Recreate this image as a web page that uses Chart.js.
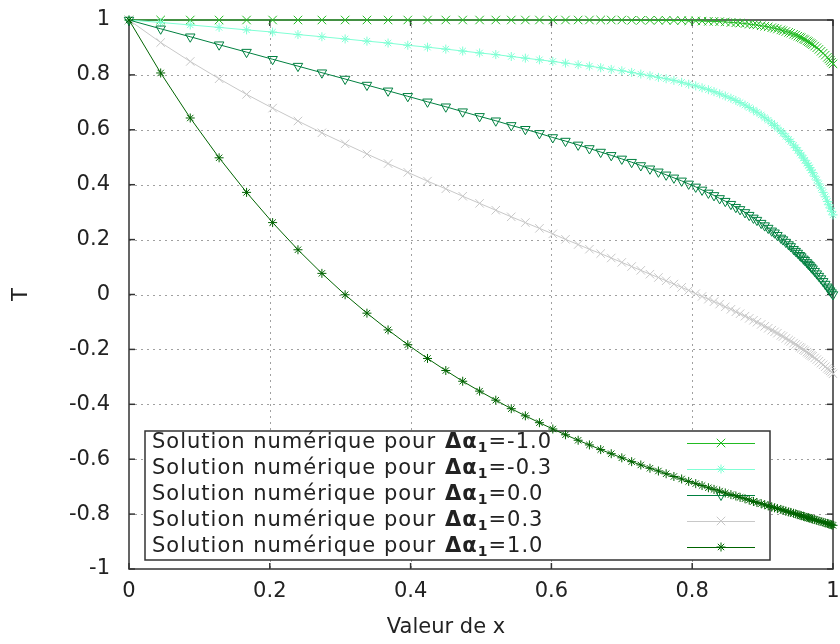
<!DOCTYPE html>
<html>
<head>
<meta charset="utf-8">
<script src="https://cdn.jsdelivr.net/npm/chart.js@4.4.1/dist/chart.umd.min.js"></script>
<style>
  html, body { margin: 0; padding: 0; background: #fff; }
  #wrap { position: relative; width: 840px; height: 644px; }
</style>
</head>
<body>
<div id="wrap"><canvas id="chart"></canvas></div>
<script>
// Solutions numériques T(x) pour plusieurs valeurs de Δα1 (style gnuplot)

const FONT = '"DejaVu Sans", sans-serif';
const TEXT = "#222";

// abscisses communes (maillage resserré vers x = 1)
const xs = [
  0, 0.045, 0.087, 0.128, 0.167, 0.204, 0.240, 0.274, 0.307, 0.338,
  0.368, 0.396, 0.424, 0.450, 0.474, 0.498, 0.521, 0.543, 0.563, 0.583,
  0.602, 0.620, 0.638, 0.654, 0.670, 0.685, 0.700, 0.714, 0.727, 0.740,
  0.752, 0.763, 0.774, 0.785, 0.795, 0.805, 0.814, 0.823, 0.831, 0.839,
  0.847, 0.855, 0.862, 0.868, 0.875, 0.881, 0.887, 0.892, 0.898, 0.903,
  0.908, 0.913, 0.917, 0.921, 0.926, 0.929, 0.933, 0.937, 0.940, 0.944,
  0.947, 0.950, 0.953, 0.955, 0.958, 0.960, 0.963, 0.965, 0.967, 0.969,
  0.971, 0.974, 0.977, 0.980, 0.983, 0.986, 0.989, 0.992, 0.994, 0.996,
  0.998, 1.000,
];

// Δα1 = -1.0
const tMinus10 = [
  1, 1, 1, 1, 1, 1, 1, 1, 1, 1,
  1, 1, 1, 1, 1, 1, 1, 1, 1, 1,
  1, 1, 1, 1, 1, 1, 1, 0.999, 0.999, 0.999,
  0.999, 0.999, 0.998, 0.998, 0.997, 0.997, 0.996, 0.995, 0.995, 0.994,
  0.993, 0.991, 0.990, 0.989, 0.987, 0.985, 0.983, 0.982, 0.979, 0.977,
  0.975, 0.972, 0.970, 0.967, 0.964, 0.961, 0.958, 0.955, 0.952, 0.948,
  0.945, 0.941, 0.938, 0.935, 0.931, 0.928, 0.924, 0.921, 0.917, 0.914,
  0.910, 0.905, 0.899, 0.893, 0.886, 0.879, 0.872, 0.864, 0.858, 0.852,
  0.846, 0.840,
];

// Δα1 = -0.3
const tMinus03 = [
  1, 0.991, 0.982, 0.973, 0.964, 0.956, 0.947, 0.939, 0.931, 0.923,
  0.916, 0.908, 0.901, 0.894, 0.887, 0.880, 0.874, 0.867, 0.861, 0.855,
  0.849, 0.843, 0.837, 0.832, 0.826, 0.820, 0.815, 0.809, 0.803, 0.797,
  0.791, 0.786, 0.780, 0.773, 0.766, 0.760, 0.753, 0.746, 0.739, 0.731,
  0.723, 0.715, 0.707, 0.699, 0.690, 0.681, 0.672, 0.664, 0.654, 0.644,
  0.635, 0.624, 0.616, 0.606, 0.595, 0.587, 0.576, 0.565, 0.557, 0.544,
  0.535, 0.525, 0.515, 0.508, 0.497, 0.489, 0.478, 0.470, 0.462, 0.453,
  0.444, 0.431, 0.417, 0.403, 0.388, 0.372, 0.356, 0.339, 0.327, 0.315,
  0.303, 0.290,
];

// Δα1 = 0.0
const tZero = [
  1, 0.968, 0.939, 0.910, 0.883, 0.857, 0.832, 0.808, 0.785, 0.763,
  0.742, 0.722, 0.702, 0.684, 0.666, 0.649, 0.633, 0.616, 0.602, 0.587,
  0.572, 0.559, 0.545, 0.532, 0.519, 0.507, 0.494, 0.482, 0.470, 0.458,
  0.447, 0.436, 0.425, 0.414, 0.403, 0.392, 0.381, 0.370, 0.361, 0.350,
  0.340, 0.329, 0.318, 0.310, 0.299, 0.289, 0.279, 0.271, 0.260, 0.251,
  0.242, 0.232, 0.225, 0.216, 0.206, 0.200, 0.191, 0.182, 0.175, 0.165,
  0.158, 0.151, 0.143, 0.138, 0.130, 0.125, 0.117, 0.111, 0.106, 0.100,
  0.094, 0.085, 0.076, 0.067, 0.058, 0.048, 0.038, 0.028, 0.021, 0.014,
  0.007, 0.000,
];

// Δα1 = 0.3
const tPlus03 = [
  1, 0.918, 0.849, 0.786, 0.729, 0.679, 0.632, 0.589, 0.549, 0.512,
  0.477, 0.445, 0.413, 0.385, 0.358, 0.332, 0.307, 0.283, 0.262, 0.241,
  0.221, 0.201, 0.182, 0.165, 0.149, 0.133, 0.117, 0.102, 0.088, 0.074,
  0.062, 0.050, 0.038, 0.026, 0.015, 0.003, -0.007, -0.017, -0.026, -0.035,
  -0.045, -0.054, -0.063, -0.070, -0.079, -0.087, -0.094, -0.101, -0.109, -0.116,
  -0.123, -0.130, -0.136, -0.141, -0.149, -0.153, -0.160, -0.166, -0.171, -0.177,
  -0.182, -0.187, -0.192, -0.196, -0.201, -0.205, -0.210, -0.214, -0.218, -0.222,
  -0.225, -0.231, -0.237, -0.243, -0.250, -0.256, -0.263, -0.269, -0.274, -0.278,
  -0.283, -0.289,
];

// Δα1 = 1.0
const tPlus10 = [
  1, 0.807, 0.643, 0.498, 0.372, 0.262, 0.163, 0.077, -0.001, -0.068,
  -0.129, -0.183, -0.233, -0.277, -0.316, -0.352, -0.385, -0.416, -0.442, -0.467,
  -0.490, -0.511, -0.531, -0.548, -0.565, -0.580, -0.595, -0.609, -0.621, -0.633,
  -0.643, -0.653, -0.663, -0.672, -0.681, -0.689, -0.696, -0.704, -0.710, -0.716,
  -0.723, -0.729, -0.734, -0.739, -0.744, -0.749, -0.754, -0.758, -0.762, -0.766,
  -0.770, -0.774, -0.777, -0.780, -0.783, -0.786, -0.789, -0.792, -0.794, -0.797,
  -0.799, -0.802, -0.804, -0.806, -0.808, -0.810, -0.812, -0.813, -0.815, -0.816,
  -0.818, -0.820, -0.823, -0.825, -0.827, -0.830, -0.832, -0.834, -0.836, -0.838,
  -0.839, -0.841,
];

const alphaLabels = ["-1.0", "-0.3", "0.0", "0.3", "1.0"];
const xTicks = [0, 0.2, 0.4, 0.6, 0.8, 1];
const yTicks = [-1, -0.8, -0.6, -0.4, -0.2, 0, 0.2, 0.4, 0.6, 0.8, 1];

// styles façon gnuplot (pt 2 = x, pt 3 = *, pt 10 = triangle bas)
const STYLES = [
  { color: "#22bb22", pointStyle: "crossRot", radius: 6, rotation: 0 },
  { color: "#7fffd4", pointStyle: "star", radius: 4.5, rotation: 0 },
  { color: "#008040", pointStyle: "triangle", radius: 5.5, rotation: 180 },
  { color: "#c8c8c8", pointStyle: "crossRot", radius: 6, rotation: 0 },
  { color: "#006400", pointStyle: "star", radius: 4.5, rotation: 0 },
];
const SERIES = [tMinus10, tMinus03, tZero, tPlus03, tPlus10];

const datasets = SERIES.map((ys, i) => ({
  label: "Δα1=" + alphaLabels[i],
  data: xs.map((x, j) => ({ x, y: ys[j] })),
  borderColor: STYLES[i].color,
  backgroundColor: "transparent",
  borderWidth: 1,
  pointStyle: STYLES[i].pointStyle,
  pointRadius: STYLES[i].radius,
  pointRotation: STYLES[i].rotation,
  pointBorderColor: STYLES[i].color,
  pointBackgroundColor: "transparent",
  pointBorderWidth: 1,
  tension: 0,
  clip: false,
  order: SERIES.length - 1 - i, // la dernière courbe passe au-dessus
}));

function strokeLine(ctx, x1, y1, x2, y2) {
  ctx.beginPath();
  ctx.moveTo(x1, y1);
  ctx.lineTo(x2, y2);
  ctx.stroke();
}

// grille pointillée, cartouche de légende, cadre et graduations intérieures
const gnuplotFrame = {
  id: "gnuplotFrame",
  beforeDatasetsDraw(chart) {
    const { ctx, chartArea: a, scales: { x, y } } = chart;
    ctx.save();

    ctx.strokeStyle = "#a0a0a0";
    ctx.lineWidth = 1;
    ctx.setLineDash([2, 4]);
    xTicks.forEach((v) => {
      if (v <= 0 || v >= 1) return;
      const px = Math.round(x.getPixelForValue(v)) + 0.5;
      strokeLine(ctx, px, a.top, px, a.bottom);
    });
    yTicks.forEach((v) => {
      if (v <= -1 || v >= 1) return;
      const py = Math.round(y.getPixelForValue(v)) + 0.5;
      strokeLine(ctx, a.left, py, a.right, py);
    });
    ctx.setLineDash([]);

    // légende
    const kl = a.left + 16, kr = a.left + 641;
    const kt = a.bottom - 138, kb = a.bottom - 9;
    ctx.fillStyle = "#fff";
    ctx.fillRect(kl, kt, kr - kl, kb - kt);
    ctx.strokeStyle = "#333";
    ctx.lineWidth = 1.5;
    ctx.strokeRect(kl, kt, kr - kl, kb - kt);

    ctx.textBaseline = "middle";
    ctx.textAlign = "left";
    alphaLabels.forEach((lab, i) => {
      const ry = kt + 12 + i * 26;
      let tx = kl + 7;
      ctx.fillStyle = TEXT;
      ctx.letterSpacing = "1px";
      ctx.font = `21px ${FONT}`;
      ctx.fillText("Solution numérique pour", tx, ry);
      tx += ctx.measureText("Solution numérique pour").width + 9;
      ctx.font = `bold 21px ${FONT}`;
      ctx.fillText("Δα", tx, ry);
      tx += ctx.measureText("Δα").width;
      ctx.font = `bold 14px ${FONT}`;
      ctx.fillText("1", tx, ry + 5);
      tx += ctx.measureText("1").width;
      ctx.font = `21px ${FONT}`;
      ctx.fillText("=" + lab, tx, ry);
      ctx.letterSpacing = "0px";

      const st = STYLES[i];
      ctx.strokeStyle = st.color;
      ctx.fillStyle = "rgba(0,0,0,0)";
      ctx.lineWidth = 1;
      strokeLine(ctx, kl + 542, ry + 0.5, kl + 610, ry + 0.5);
      Chart.helpers.drawPoint(ctx, {
        pointStyle: st.pointStyle, radius: st.radius, rotation: st.rotation, borderWidth: 1,
      }, kl + 576, ry);
    });

    // cadre
    ctx.strokeStyle = "#333";
    ctx.lineWidth = 1.5;
    ctx.strokeRect(a.left, a.top, a.right - a.left, a.bottom - a.top);

    // graduations (vers l'intérieur, miroir haut/droite)
    const tl = 6;
    xTicks.forEach((v) => {
      const px = x.getPixelForValue(v);
      strokeLine(ctx, px, a.bottom, px, a.bottom - tl);
      strokeLine(ctx, px, a.top, px, a.top + tl);
    });
    yTicks.forEach((v) => {
      const py = y.getPixelForValue(v);
      strokeLine(ctx, a.left, py, a.left + tl, py);
      strokeLine(ctx, a.right, py, a.right - tl, py);
    });
    ctx.restore();
  },
  // titre de l'axe x, décalé vers la gauche comme dans l'original
  afterDraw(chart) {
    const { ctx } = chart;
    ctx.save();
    ctx.fillStyle = TEXT;
    ctx.font = `21px ${FONT}`;
    ctx.textAlign = "center";
    ctx.textBaseline = "middle";
    ctx.fillText("Valeur de x", 446, 628);
    ctx.restore();
  },
};

new Chart(document.getElementById("chart"), {
  type: "line",
  data: { datasets },
  options: {
    responsive: true,
    maintainAspectRatio: false,
    animation: false,
    devicePixelRatio: 1,
    layout: { padding: { top: 20, right: 2, left: 0, bottom: 0 } },
    plugins: { legend: { display: false }, tooltip: { enabled: false } },
    scales: {
      x: {
        type: "linear",
        min: 0,
        max: 1,
        grid: { display: false, drawTicks: false },
        border: { display: false },
        afterBuildTicks: (s) => { s.ticks = xTicks.map((v) => ({ value: v })); },
        afterFit: (s) => { s.height = 75; s.paddingLeft = 0; s.paddingRight = 0; },
        ticks: {
          color: TEXT, font: { family: FONT, size: 21 }, padding: 10,
          maxRotation: 0, autoSkip: false, callback: (v) => String(v),
        },
        title: { display: false },
      },
      y: {
        type: "linear",
        min: -1,
        max: 1,
        grid: { display: false, drawTicks: false },
        border: { display: false },
        afterBuildTicks: (s) => { s.ticks = yTicks.map((v) => ({ value: v })); },
        afterFit: (s) => { s.width = 129; s.paddingTop = 0; s.paddingBottom = 0; },
        ticks: {
          color: TEXT, font: { family: FONT, size: 21 }, padding: 19,
          autoSkip: false, callback: (v) => String(v),
        },
        title: {
          display: true, text: "T", color: TEXT,
          font: { family: FONT, size: 21 }, padding: { top: 9, bottom: 0 },
        },
      },
    },
  },
  plugins: [gnuplotFrame],
});
</script>
</body>
</html>
